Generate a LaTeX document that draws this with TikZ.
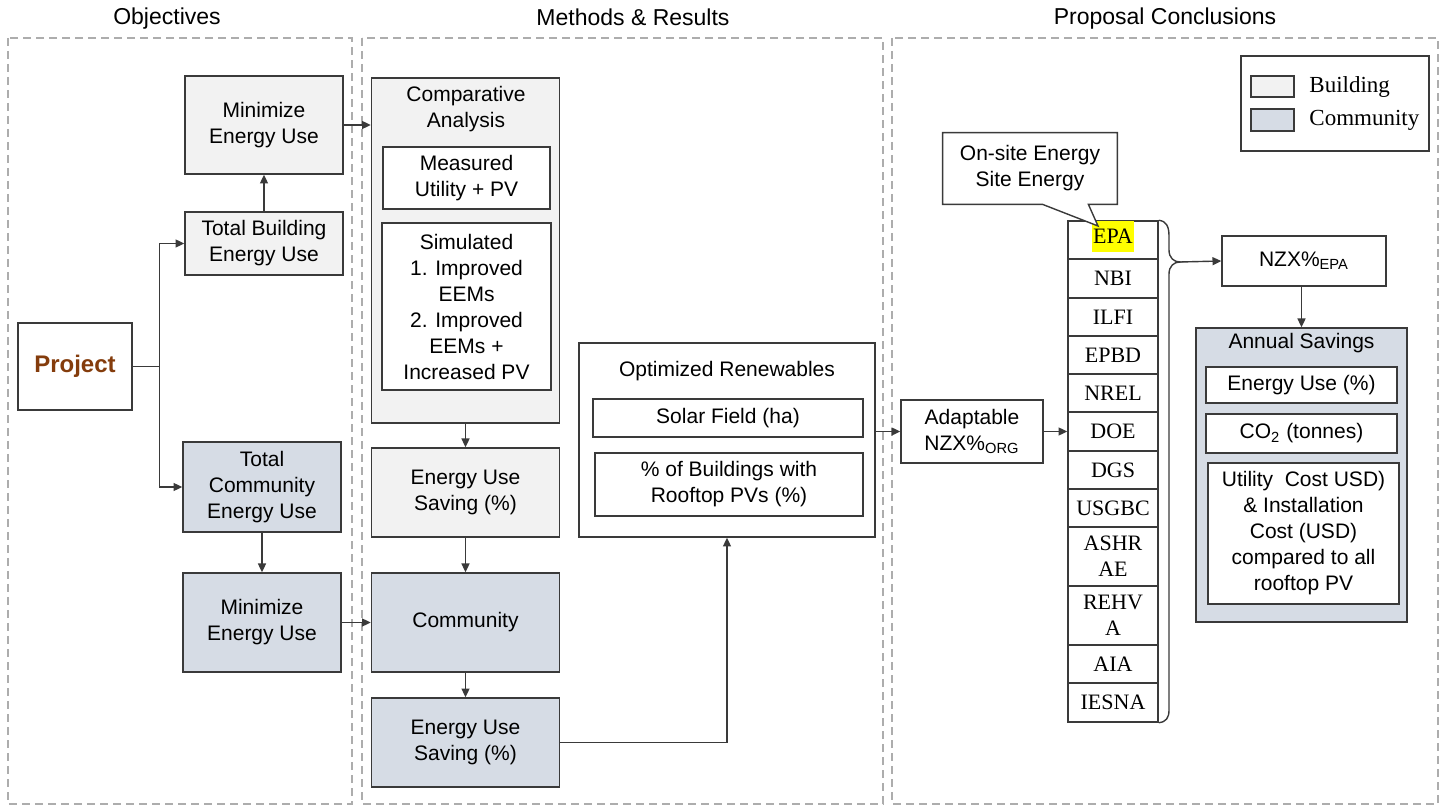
\documentclass[tikz,border=0pt]{standalone}
\usepackage{fontspec}
\setmainfont{Liberation Sans}
\newfontfamily\stdfont{Liberation Serif}
\usetikzlibrary{arrows.meta}

\definecolor{bldgfill}{HTML}{F2F2F2}
\definecolor{commfill}{HTML}{D6DCE5}
\definecolor{boxline}{HTML}{3A3A3A}
\definecolor{dashgray}{HTML}{ADADAD}
\definecolor{projbrown}{HTML}{843C0C}
\definecolor{hlyellow}{HTML}{FFFF00}

\begin{document}
\begin{tikzpicture}[x=0.5pt, y=-0.5pt,
    sz/.style 2 args={minimum width=#1*0.5pt, minimum height=#2*0.5pt},
    box/.style={draw=boxline, line width=0.7pt, align=center, inner sep=0pt,
        font=\fontsize{10.5}{13}\selectfont},
    bldg/.style={box, fill=bldgfill},
    comm/.style={box, fill=commfill},
    plain/.style={box, fill=white},
    std/.style={box, fill=white, font=\stdfont\fontsize{11}{13}\selectfont},
    title/.style={font=\fontsize{11.5}{13}\selectfont},
    panel/.style={draw=dashgray, line width=0.8pt, dash pattern=on 4pt off 2.5pt},
    line/.style={draw=boxline, line width=0.7pt},
    arr/.style={line, -{Triangle[length=4.4pt, width=4pt]}}]
    \useasboundingbox (0,0) rectangle (1445,806);

    % Column titles and dashed panels
    \node[title] (tObj) at (167,19) {Objectives};
    \node[title] (tMet) at (633,17) {Methods \& Results};
    \node[title] (tPro) at (1165,19) {Proposal Conclusions};
    \draw[panel] (8,38) rectangle (352,804);
    \draw[panel] (362,38) rectangle (883,804);
    \draw[panel] (892,38) rectangle (1438,804);

    % Objectives
    \node[plain, sz={114}{87}, font=\bfseries\fontsize{12}{14}\selectfont, text=projbrown] (proj) at (75,366.5) {Project};
    \node[bldg, sz={158}{98}] (minB) at (264,125) {Minimize\\Energy Use};
    \node[bldg, sz={158}{63}] (totB) at (264,243.5) {Total Building\\Energy Use};
    \node[comm, sz={158}{90}] (totC) at (262,487) {Total\\Community\\Energy Use};
    \node[comm, sz={158}{99}] (minC) at (262,622.5) {Minimize\\Energy Use};

    % Methods & Results
    \node[bldg, sz={188}{345}] (comp) at (465.5,250.5) {};
    \node[font=\fontsize{10.5}{13}\selectfont, align=center] (compT) at (466,109) {Comparative\\Analysis};
    \node[plain, sz={167}{62}] (meas) at (466.5,178) {Measured\\Utility + PV};
    \node[plain, sz={169}{167}] (simu) at (466.5,306.5) {Simulated\\1. Improved\\EEMs\\2. Improved\\EEMs +\\Increased PV};
    \node[bldg, sz={188}{89}] (savB) at (465.5,492.5) {Energy Use\\Saving (\%)};
    \node[comm, sz={188}{99}] (comm) at (465.5,622.5) {Community};
    \node[comm, sz={188}{89}] (savC) at (465.5,742.5) {Energy Use\\Saving (\%)};
    \node[plain, sz={296}{194}] (opt) at (727,440) {};
    \node[font=\fontsize{10.5}{13}\selectfont] (optT) at (727,371) {Optimized Renewables};
    \node[plain, sz={270}{38}] (solar) at (728,418) {Solar Field (ha)};
    \node[plain, sz={268}{63}] (roof) at (729,484.5) {\% of Buildings with\\Rooftop PVs (\%)};

    % Proposal Conclusions
    \node[plain, sz={142}{63}] (adapt) at (972,431.5) {Adaptable\\NZX\%\textsubscript{ORG}};
    \node[std, sz={90}{38}] (sEPA) at (1113,240) {};
    \node[fill=hlyellow, inner sep=0pt, sz={42}{31}, font=\stdfont\fontsize{11}{13}\selectfont] (epa) at (1113,236.5) {EPA};
    \node[std, sz={90}{39}] (sNBI) at (1113,278.5) {NBI};
    \node[std, sz={90}{38}] (sILFI) at (1113,317) {ILFI};
    \node[std, sz={90}{38}] (sEPBD) at (1113,355) {EPBD};
    \node[std, sz={90}{38}] (sNREL) at (1113,393) {NREL};
    \node[std, sz={90}{39}] (sDOE) at (1113,431.5) {DOE};
    \node[std, sz={90}{38}] (sDGS) at (1113,470) {DGS};
    \node[std, sz={90}{38}] (sUSGBC) at (1113,508) {USGBC};
    \node[std, sz={90}{59}] (sASHRAE) at (1113,556.5) {ASHR\\AE};
    \node[std, sz={90}{59}] (sREHVA) at (1113,615.5) {REHV\\A};
    \node[std, sz={90}{38}] (sAIA) at (1113,664) {AIA};
    \node[std, sz={90}{39}] (sIESNA) at (1113,702.5) {IESNA};

    % callout over EPA
    \node[inner sep=0pt, sz={174}{71}] (call) at (1030,168.5) {};
    \coordinate (callTip) at (1098,226);
    \draw[line, fill=white] (call.north west) -- (call.north east) -- (call.south east) -- ++(-29,0)
        -- (callTip) -- ([xshift=50pt]call.south west) -- (call.south west) -- cycle;
    \node[font=\fontsize{10.5}{13}\selectfont, align=center] (callT) at (call.center) {On-site Energy\\Site Energy};

    % brace
    \coordinate (brTip) at (1180,262);
    \draw[line] (sEPA.north east) .. controls (1166,221) and (1169,226) .. (1169,236) -- (1169,250)
        .. controls (1169,258) and (1174,262) .. (brTip)
        .. controls (1174,262) and (1169,266) .. (1169,274) -- (1169,710)
        .. controls (1169,718) and (1166,722) .. (sIESNA.south east);

    \node[plain, sz={164}{50}] (nzx) at (1304,261) {NZX\%\textsubscript{EPA}};
    \node[comm, sz={211}{294}] (annual) at (1301.5,475) {};
    \node[font=\fontsize{10.5}{13}\selectfont] (annualT) at (1301.5,343) {Annual Savings};
    \node[plain, sz={191}{36}] (euse) at (1301.5,385) {Energy Use (\%)};
    \node[plain, sz={191}{39}] (co2) at (1301.5,433.5) {CO\textsubscript{2} (tonnes)};
    \node[plain, sz={191}{141}] (util) at (1303.5,533.5) {Utility\ \ Cost USD)\\\& Installation\\Cost (USD)\\compared to all\\rooftop PV};

    % legend
    \node[plain, sz={188}{95}] (legend) at (1335,103.5) {};
    \node[bldg, sz={43}{21}] (lgB) at (1272.5,86.5) {};
    \node[comm, sz={43}{22}] (lgC) at (1272.5,120) {};
    \node[anchor=west, inner sep=0pt, font=\stdfont\fontsize{11.5}{13}\selectfont] (lgBT) at (1309,87) {Building};
    \node[anchor=west, inner sep=0pt, font=\stdfont\fontsize{11.5}{13}\selectfont] (lgCT) at (1309,120) {Community};

    % Draw connectors
    \draw[arr] (proj.east) -- ++(27,0) |- (totB.west);
    \draw[arr] (proj.east) -- ++(27,0) |- (totC.west);
    \draw[arr] (totB.north) -- (minB.south);
    \draw[arr] (totC.south) -- (minC.north);
    \draw[arr] (minB.east) -- (minB.east -| comp.west);
    \draw[arr] (minC.east) -- (minC.east -| comm.west);
    \draw[arr] (comp.south) -- (savB.north);
    \draw[arr] (savB.south) -- (comm.north);
    \draw[arr] (comm.south) -- (savC.north);
    \draw[arr] (savC.east) -| (opt.south);
    \draw[arr] (adapt.west -| opt.east) -- (adapt.west);
    \draw[arr] (adapt.east) -- (sDOE.west);
    \draw[arr] (brTip) -- (nzx.west);
    \draw[arr] (annual.north |- nzx.south) -- (annual.north);
\end{tikzpicture}
\end{document}
